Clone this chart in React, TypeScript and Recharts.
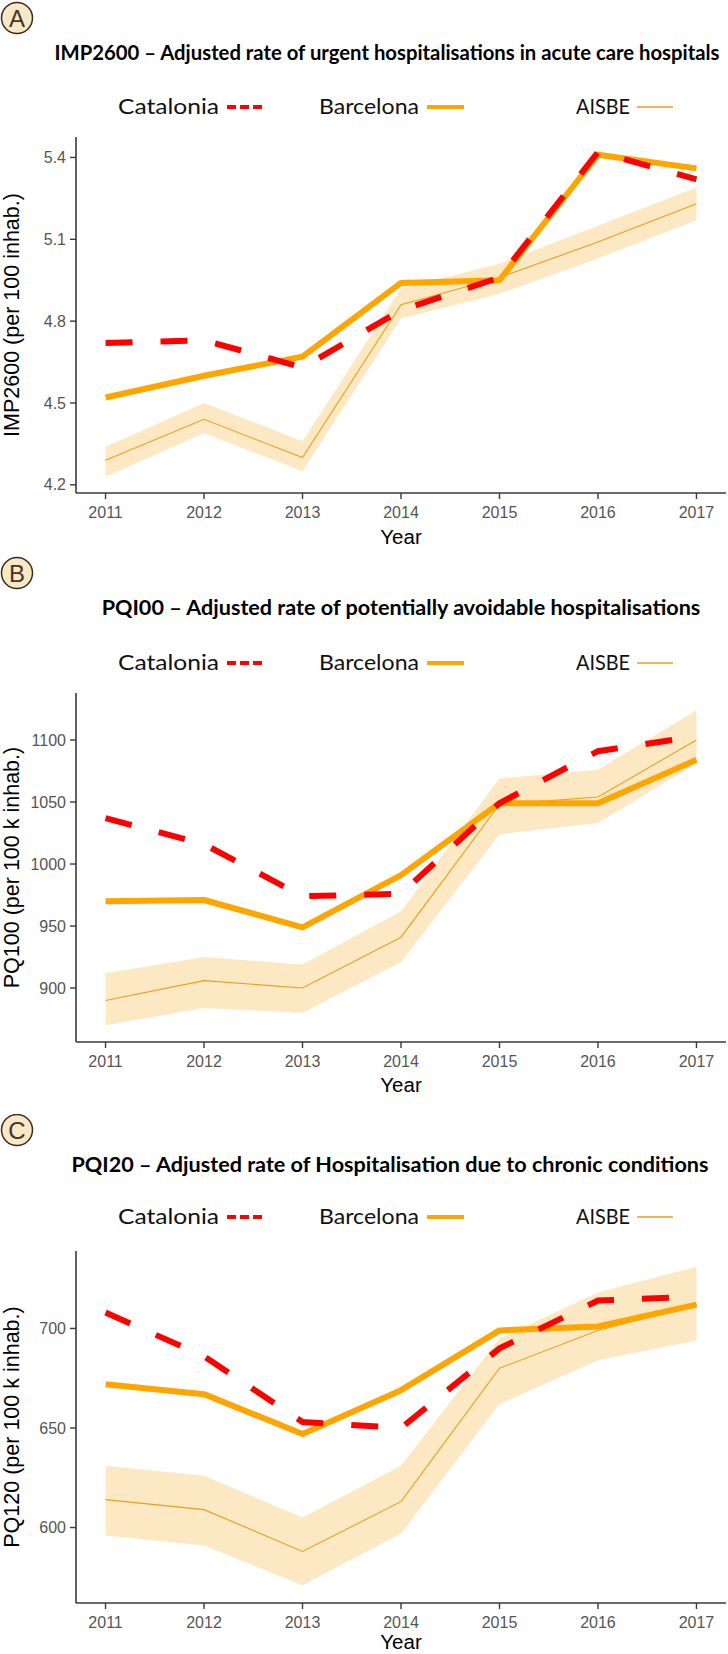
import React from 'react'
import { Area, ComposedChart, Line, XAxis, YAxis } from 'recharts'

const years = [2011, 2012, 2013, 2014, 2015, 2016, 2017]

// A: IMP2600
const impCatalonia = [4.72, 4.73, 4.63, 4.84, 4.96, 5.42, 5.32]
const impBarcelona = [4.52, 4.6, 4.67, 4.94, 4.95, 5.41, 5.36]
const impAisbe = [4.29, 4.44, 4.3, 4.86, 4.96, 5.09, 5.23]
const impAisbeLow = [4.23, 4.39, 4.25, 4.81, 4.9, 5.03, 5.17]
const impAisbeHigh = [4.34, 4.5, 4.36, 4.92, 5.01, 5.15, 5.29]
const impTicks = [4.2, 4.5, 4.8, 5.1, 5.4]

// B: PQI00
const pqi00Catalonia = [1037, 1016, 974, 976, 1049, 1091, 1103]
const pqi00Barcelona = [970, 971, 949, 991, 1049, 1049, 1084]
const pqi00Aisbe = [890, 906, 900, 941, 1048, 1054, 1100]
const pqi00AisbeLow = [870, 884, 880, 921, 1024, 1033, 1081]
const pqi00AisbeHigh = [912, 925, 919, 962, 1069, 1076, 1124]
const pqi00Ticks = [900, 950, 1000, 1050, 1100]

// C: PQI20
const pqi20Catalonia = [708, 686, 653, 650, 690, 714, 716]
const pqi20Barcelona = [672, 667, 647, 669, 699, 701, 712]
const pqi20Aisbe = [614, 609, 588, 613, 680, 699, 712]
const pqi20AisbeLow = [596, 591, 571, 597, 662, 684, 694]
const pqi20AisbeHigh = [631, 626, 605, 631, 695, 718, 731]
const pqi20Ticks = [600, 650, 700]

const RED = '#ff0000'
const ORANGE = '#ffa500'
const AISBE_LINE = '#e8a11c'
const BAND = '#fde8c4'
const AXIS = '#3a3a3a'
const TICK_TEXT = '#555555'
const ARIAL = '"Liberation Sans", Arial, sans-serif'
const CALIBRI = 'Lato, "Open Sans", sans-serif'

const W = 728
const PLOT_LEFT = 76
const PLOT_RIGHT = 726

function buildRows(cat: number[], bcn: number[], aisbe: number[], lo: number[], hi: number[]) {
  return years.map((year, i) => ({
    year,
    catalonia: cat[i],
    barcelona: bcn[i],
    aisbe: aisbe[i],
    band: [lo[i], hi[i]]
  }))
}

interface PanelProps {
  letter: string
  title: string
  titleX: number
  titleSize: number
  yLabel: string
  rows: ReturnType<typeof buildRows>
  ticks: number[]
  domain: [number, number]
  height: number
  plotTop: number
  plotBottom: number
  circleY: number
  titleY: number
  legendY: number
  yearY: number
}

function Legend({ y }: { y: number }) {
  const textProps = { fontFamily: CALIBRI, fontSize: 21, fill: '#111', lengthAdjust: 'spacingAndGlyphs' as const }
  return (
    <g>
      <text x={118} y={y + 7} textLength={101} {...textProps}>Catalonia</text>
      <line x1={227} x2={262} y1={y} y2={y} stroke={RED} strokeWidth={4} strokeDasharray="9 4" />
      <text x={319} y={y + 7} textLength={100} {...textProps}>Barcelona</text>
      <line x1={427} x2={464} y1={y} y2={y} stroke={ORANGE} strokeWidth={4} />
      <text x={576} y={y + 7} textLength={54} {...textProps}>AISBE</text>
      <line x1={637} x2={673} y1={y} y2={y} stroke={AISBE_LINE} strokeWidth={1.5} />
    </g>
  )
}

function Panel(p: PanelProps) {
  const xAxisHeight = p.height - p.plotBottom
  const plotMid = (p.plotTop + p.plotBottom) / 2
  return (
    <div style={{ position: 'relative', width: W, height: p.height }}>
      <ComposedChart
        width={W}
        height={p.height}
        data={p.rows}
        margin={{ top: p.plotTop, right: W - PLOT_RIGHT, bottom: 0, left: 0 }}
      >
        <XAxis
          dataKey="year"
          type="number"
          domain={[2010.7, 2017.3]}
          ticks={years}
          allowDataOverflow
          height={xAxisHeight}
          tickSize={6}
          tickMargin={8}
          axisLine={{ stroke: AXIS, strokeWidth: 1.6 }}
          tickLine={{ stroke: AXIS, strokeWidth: 1.4 }}
          tick={{ fill: TICK_TEXT, fontSize: 16, fontFamily: ARIAL }}
        />
        <YAxis
          type="number"
          domain={p.domain}
          ticks={p.ticks}
          allowDataOverflow
          width={PLOT_LEFT}
          tickSize={6}
          tickMargin={4}
          axisLine={{ stroke: AXIS, strokeWidth: 1.6 }}
          tickLine={{ stroke: AXIS, strokeWidth: 1.4 }}
          tick={{ fill: TICK_TEXT, fontSize: 16, fontFamily: ARIAL }}
        />
        <Area
          dataKey="band"
          type="linear"
          stroke="none"
          fill={BAND}
          fillOpacity={1}
          isAnimationActive={false}
        />
        <Line
          dataKey="aisbe"
          type="linear"
          stroke={AISBE_LINE}
          strokeWidth={1.1}
          dot={false}
          isAnimationActive={false}
        />
        <Line
          dataKey="barcelona"
          type="linear"
          stroke={ORANGE}
          strokeWidth={6}
          strokeLinejoin="round"
          dot={false}
          isAnimationActive={false}
        />
        <Line
          dataKey="catalonia"
          type="linear"
          stroke={RED}
          strokeWidth={6}
          strokeDasharray="27 28"
          strokeLinecap="butt"
          dot={false}
          isAnimationActive={false}
        />
      </ComposedChart>
      <svg
        width={W}
        height={p.height}
        style={{ position: 'absolute', left: 0, top: 0, pointerEvents: 'none' }}
      >
        <circle cx={17} cy={p.circleY} r={15.5} fill="#f8e8c8" stroke="#3b2a18" strokeWidth={1.5} />
        <text
          x={17}
          y={p.circleY + 8.5}
          textAnchor="middle"
          fontFamily={ARIAL}
          fontSize={24}
          fill="#4a3420"
        >
          {p.letter}
        </text>
        <text
          x={p.titleX}
          y={p.titleY + 7}
          textAnchor="middle"
          fontFamily={CALIBRI}
          fontWeight={700}
          fontSize={p.titleSize}
          fill="#000"
        >
          {p.title}
        </text>
        <Legend y={p.legendY} />
        <text
          transform={`translate(19, ${plotMid}) rotate(-90)`}
          textAnchor="middle"
          fontFamily={ARIAL}
          fontSize={21.5}
          fill="#000"
        >
          {p.yLabel}
        </text>
        <text
          x={(PLOT_LEFT + PLOT_RIGHT) / 2}
          y={p.yearY + 7}
          textAnchor="middle"
          fontFamily={ARIAL}
          fontSize={20.5}
          fill="#000"
        >
          Year
        </text>
      </svg>
    </div>
  )
}

export default function App() {
  const rowsA = buildRows(impCatalonia, impBarcelona, impAisbe, impAisbeLow, impAisbeHigh)
  const rowsB = buildRows(pqi00Catalonia, pqi00Barcelona, pqi00Aisbe, pqi00AisbeLow, pqi00AisbeHigh)
  const rowsC = buildRows(pqi20Catalonia, pqi20Barcelona, pqi20Aisbe, pqi20AisbeLow, pqi20AisbeHigh)
  return (
    <div style={{ width: W, background: '#fff' }}>
      <style>{'body { margin: 0; background: #fff; }'}</style>
      <Panel
        letter="A"
        title="IMP2600 – Adjusted rate of urgent hospitalisations in acute care hospitals"
        titleX={387}
        titleSize={20.3}
        yLabel="IMP2600 (per 100 inhab.)"
        rows={rowsA}
        ticks={impTicks}
        domain={[4.17, 5.475]}
        height={556}
        plotTop={137}
        plotBottom={493}
        circleY={18}
        titleY={53}
        legendY={107}
        yearY={537}
      />
      <Panel
        letter="B"
        title="PQI00 – Adjusted rate of potentially avoidable hospitalisations"
        titleX={401}
        titleSize={21.6}
        yLabel="PQ100 (per 100 k inhab.)"
        rows={rowsB}
        ticks={pqi00Ticks}
        domain={[856.5, 1137.9]}
        height={558}
        plotTop={137}
        plotBottom={486}
        circleY={17}
        titleY={52}
        legendY={107}
        yearY={529}
      />
      <Panel
        letter="C"
        title="PQI20 – Adjusted rate of Hospitalisation due to chronic conditions"
        titleX={390}
        titleSize={21.6}
        yLabel="PQ120 (per 100 k inhab.)"
        rows={rowsC}
        ticks={pqi20Ticks}
        domain={[562.1, 738.9]}
        height={540}
        plotTop={137}
        plotBottom={489}
        circleY={16}
        titleY={51}
        legendY={103}
        yearY={528}
      />
    </div>
  )
}
